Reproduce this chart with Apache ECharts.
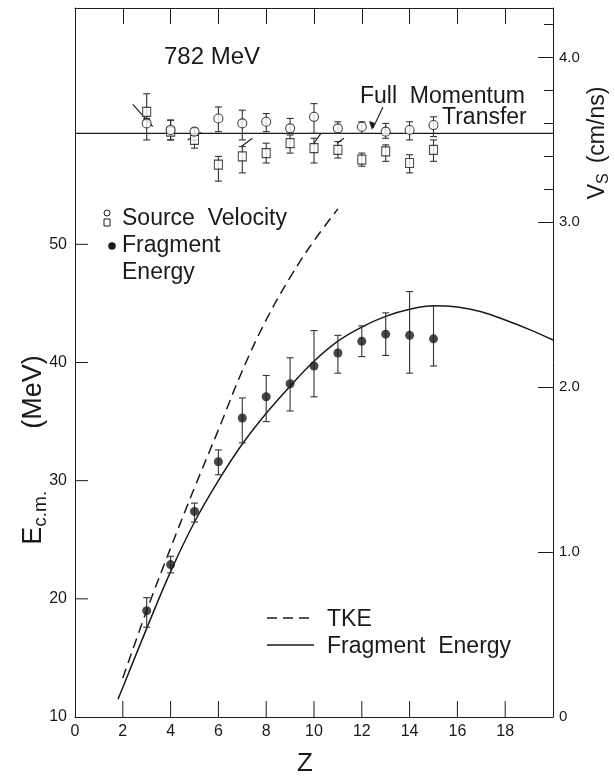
<!DOCTYPE html>
<html>
<head>
<meta charset="utf-8">
<script src="https://cdn.jsdelivr.net/npm/echarts@6/dist/echarts.min.js"></script>
<style>
  html, body { margin: 0; background: #fff; }
  #chart { width: 615px; height: 777px; }
</style>
</head>
<body>
<div id="chart"></div>
<script>
// fragment energy points, E c.m. (MeV), with error limits
var zFrag  = [3, 4, 5, 6, 7, 8, 9, 10, 11, 12, 13, 14, 15];
var fragE  = [19.0, 22.9, 27.4, 31.6, 35.3, 37.1, 38.2, 39.7, 40.8, 41.8, 42.4, 42.3, 42.0];
var fragLo = [17.6, 22.2, 26.5, 30.5, 33.2, 35.0, 35.9, 37.1, 39.1, 40.5, 40.6, 39.1, 39.7];
var fragHi = [20.1, 23.6, 28.1, 32.6, 37.0, 38.9, 40.4, 42.7, 42.3, 43.1, 44.2, 46.0, 44.8];

// source velocity (cm/ns): circles and squares
var zVel       = [3, 4, 5, 6, 7, 8, 9, 10, 11, 12, 13, 14, 15];
var velCirc    = [3.60, 3.56, 3.55, 3.63, 3.60, 3.61, 3.57, 3.64, 3.57, 3.58, 3.55, 3.56, 3.59];
var velCircLo  = [3.50, 3.50, 3.53, 3.55, 3.50, 3.55, 3.54, 3.54, 3.54, 3.54, 3.51, 3.50, 3.52];
var velCircHi  = [3.63, 3.62, 3.57, 3.70, 3.68, 3.66, 3.63, 3.72, 3.61, 3.61, 3.60, 3.61, 3.64];
var velSq      = [3.67, 3.55, 3.50, 3.35, 3.40, 3.42, 3.48, 3.45, 3.44, 3.38, 3.43, 3.36, 3.44];
var velSqLo    = [3.62, 3.50, 3.45, 3.25, 3.30, 3.36, 3.42, 3.36, 3.39, 3.34, 3.37, 3.30, 3.37];
var velSqHi    = [3.78, 3.62, 3.50, 3.40, 3.46, 3.48, 3.53, 3.51, 3.49, 3.42, 3.47, 3.41, 3.50];

// short slanted strokes beside displaced symbols: [z1, v1, z2, v2]
var offsetStrokes = [
  [2.42, 3.715, 3.25, 3.58],
  [4.71, 3.50, 5.29, 3.545],
  [6.96, 3.46, 7.42, 3.51],
  [10.0, 3.48, 10.29, 3.54],
  [10.96, 3.48, 11.25, 3.51]
];

// curves
var fragCurveZ = [1.8, 2, 3, 4, 5, 6, 7, 8, 9, 10, 11, 12, 13, 14, 15, 16, 17, 18, 19, 20];
var fragCurveE = [11.5, 12.5, 17.5, 22.3, 26.5, 30.0, 33.1, 35.7, 38.0, 40.1, 41.8, 43.0, 43.9, 44.5, 44.8, 44.7, 44.3, 43.6, 42.8, 41.9];
var tkeZ = [2, 3, 4, 5, 6, 7, 8, 9, 10, 11];
var tkeE = [13.3, 19.0, 24.3, 29.4, 34.3, 39.3, 43.6, 47.2, 50.3, 53.0];
var momentumV = 3.54;

// ticks
var xLabels = [0, 2, 4, 6, 8, 10, 12, 14, 16, 18];
var xTicks = [2, 4, 6, 8, 10, 12, 14, 16, 18];
var eLabels = [10, 20, 30, 40, 50];
var eTicks = [20, 30, 40, 50];
var vTicks = [0, 1, 2, 3, 4];
var vMinorTicks = [3.2, 3.4, 3.6, 3.8, 4.2];

var ink = '#1a1a1a';
var font = 'Liberation Sans, Arial, sans-serif';

function pairs(xs, ys) {
  return xs.map(function (x, i) { return [x, ys[i]]; });
}

function errBars(name, zs, lo, hi, yIdx) {
  return {
    name: name,
    type: 'custom',
    yAxisIndex: yIdx,
    z: 3,
    data: zs.map(function (z, i) { return [z, lo[i], hi[i]]; }),
    renderItem: function (params, api) {
      var a = api.coord([api.value(0), api.value(1)]);
      var b = api.coord([api.value(0), api.value(2)]);
      var w = 3.5;
      var st = { stroke: '#333', lineWidth: 1.1 };
      return {
        type: 'group',
        children: [
          { type: 'line', shape: { x1: a[0], y1: a[1], x2: b[0], y2: b[1] }, style: st },
          { type: 'line', shape: { x1: a[0] - w, y1: a[1], x2: a[0] + w, y2: a[1] }, style: st },
          { type: 'line', shape: { x1: b[0] - w, y1: b[1], x2: b[0] + w, y2: b[1] }, style: st }
        ]
      };
    }
  };
}

// inward ticks on the left (E) and bottom (Z) frame edges
function frameTicks(name, values, vertical, len) {
  return {
    name: name,
    type: 'custom',
    clip: false,
    silent: true,
    z: 1,
    data: values.map(function (v) { return vertical ? [v, 10] : [0, v]; }),
    renderItem: function (params, api) {
      var p = api.coord([api.value(0), api.value(1)]);
      var shape = vertical
        ? { x1: p[0], y1: p[1], x2: p[0], y2: p[1] - len }
        : { x1: p[0], y1: p[1], x2: p[0] + len, y2: p[1] };
      return { type: 'line', shape: shape, style: { stroke: ink, lineWidth: 1 } };
    }
  };
}

var chart = echarts.init(document.getElementById('chart'));

var option = {
  animation: false,
  backgroundColor: '#fff',
  textStyle: { fontFamily: font, color: ink },
  grid: { left: 75, right: 62, top: 8, bottom: 60 },
  xAxis: [
    {
      type: 'value', position: 'bottom', min: 0, max: 20,
      axisLine: { onZero: false, lineStyle: { color: ink, width: 1 } },
      axisTick: { show: false },
      axisLabel: { customValues: xLabels, fontSize: 16, color: ink, margin: 7, fontFamily: font },
      splitLine: { show: false }
    },
    {
      type: 'value', position: 'top', min: 0, max: 20,
      axisLine: { onZero: false, lineStyle: { color: ink, width: 1 } },
      axisTick: { inside: true, length: 16, customValues: xTicks, lineStyle: { color: ink } },
      axisLabel: { show: false },
      splitLine: { show: false }
    }
  ],
  yAxis: [
    {
      type: 'value', position: 'left', min: 10, max: 70,
      axisLine: { show: true, onZero: false, lineStyle: { color: ink, width: 1 } },
      axisTick: { show: false },
      axisLabel: { customValues: eLabels, fontSize: 16, color: ink, margin: 8, fontFamily: font },
      splitLine: { show: false }
    },
    {
      type: 'value', position: 'right', min: 0, max: 4.3,
      axisLine: { show: true, onZero: false, lineStyle: { color: ink, width: 1 } },
      axisTick: { show: true, inside: true, length: 15, customValues: vTicks, lineStyle: { color: ink } },
      axisLabel: {
        customValues: vTicks, fontSize: 15, color: ink, margin: 6, fontFamily: font,
        formatter: function (v) { return v === 0 ? '0' : v.toFixed(1); }
      },
      splitLine: { show: false }
    },
    {
      type: 'value', position: 'right', min: 0, max: 4.3,
      axisLine: { show: false, onZero: false },
      axisTick: { show: true, inside: true, length: 9, customValues: vMinorTicks, lineStyle: { color: ink } },
      axisLabel: { show: false },
      splitLine: { show: false }
    }
  ],
  series: [
    frameTicks('z ticks', xTicks, true, 16),
    frameTicks('e ticks', eTicks, false, 13),
    {
      name: 'Fragment Energy curve', type: 'line', smooth: 0.4, showSymbol: false,
      data: pairs(fragCurveZ, fragCurveE),
      lineStyle: { color: ink, width: 1.5 }, z: 2
    },
    {
      name: 'TKE', type: 'line', smooth: 0.4, showSymbol: false,
      data: pairs(tkeZ, tkeE),
      lineStyle: { color: ink, width: 1.5, type: [10, 6] }, z: 2
    },
    {
      name: 'Full Momentum Transfer', type: 'line', yAxisIndex: 1, showSymbol: false,
      data: [[0, momentumV], [20, momentumV]],
      lineStyle: { color: ink, width: 1.2 }, z: 2
    },
    {
      name: 'offset strokes', type: 'custom', yAxisIndex: 1, z: 4, silent: true,
      data: offsetStrokes,
      renderItem: function (params, api) {
        var a = api.coord([api.value(0), api.value(1)]);
        var b = api.coord([api.value(2), api.value(3)]);
        return { type: 'line', shape: { x1: a[0], y1: a[1], x2: b[0], y2: b[1] }, style: { stroke: ink, lineWidth: 1.1 } };
      }
    },
    errBars('frag err', zFrag, fragLo, fragHi, 0),
    {
      name: 'Fragment Energy', type: 'scatter', symbol: 'circle', symbolSize: 9,
      data: pairs(zFrag, fragE), itemStyle: { color: ink }, z: 5
    },
    errBars('circ err', zVel, velCircLo, velCircHi, 1),
    errBars('sq err', zVel, velSqLo, velSqHi, 1),
    {
      name: 'Source Velocity sq', type: 'scatter', yAxisIndex: 1, symbol: 'rect', symbolSize: [8, 9],
      data: pairs(zVel, velSq),
      itemStyle: { color: '#fff', borderColor: ink, borderWidth: 1.1 }, z: 5
    },
    {
      name: 'Source Velocity', type: 'scatter', yAxisIndex: 1, symbol: 'circle', symbolSize: 9,
      data: pairs(zVel, velCirc),
      itemStyle: { color: '#fff', borderColor: ink, borderWidth: 1.1 }, z: 6
    }
  ],
  graphic: [
    { type: 'text', left: 164, top: 45, style: { text: '782 MeV', font: '24px ' + font, fill: ink } },
    { type: 'text', x: 360, y: 97, style: { text: 'Full  Momentum', font: '23px ' + font, fill: ink, verticalAlign: 'middle' } },
    { type: 'text', x: 442, y: 118, style: { text: 'Transfer', font: '23px ' + font, fill: ink, verticalAlign: 'middle' } },
    { type: 'line', shape: { x1: 383, y1: 107, x2: 373, y2: 128 }, style: { stroke: ink, lineWidth: 1.1 } },
    { type: 'polygon', shape: { points: [[372, 130], [369, 121], [375, 123]] }, style: { fill: ink } },
    // upper legend
    { type: 'circle', shape: { cx: 107, cy: 213, r: 3 }, style: { fill: '#fff', stroke: ink, lineWidth: 1 } },
    { type: 'rect', shape: { x: 104, y: 219, width: 6, height: 7 }, style: { fill: '#fff', stroke: ink, lineWidth: 1 } },
    { type: 'text', x: 122, y: 219, style: { text: 'Source  Velocity', font: '23px ' + font, fill: ink, verticalAlign: 'middle' } },
    { type: 'circle', shape: { cx: 112, cy: 246, r: 3.8 }, style: { fill: ink } },
    { type: 'text', x: 122, y: 246, style: { text: 'Fragment', font: '23px ' + font, fill: ink, verticalAlign: 'middle' } },
    { type: 'text', x: 122, y: 273, style: { text: 'Energy', font: '23px ' + font, fill: ink, verticalAlign: 'middle' } },
    // lower legend
    { type: 'line', shape: { x1: 267, y1: 618, x2: 314, y2: 618 }, style: { stroke: ink, lineWidth: 1.5, lineDash: [10, 6] } },
    { type: 'text', x: 327, y: 620, style: { text: 'TKE', font: '23px ' + font, fill: ink, verticalAlign: 'middle' } },
    { type: 'line', shape: { x1: 267, y1: 645, x2: 314, y2: 645 }, style: { stroke: ink, lineWidth: 1.5 } },
    { type: 'text', x: 327, y: 647, style: { text: 'Fragment  Energy', font: '23px ' + font, fill: ink, verticalAlign: 'middle' } },
    // axis titles
    {
      type: 'text', x: 34, y: 450, rotation: Math.PI / 2,
      style: {
        text: '{e|E}{s|c.m.}{g|}{e|(MeV)}', align: 'center', verticalAlign: 'middle', fill: ink,
        rich: {
          e: { fontSize: 27, fontFamily: font, lineHeight: 32, fill: ink },
          s: { fontSize: 19, fontFamily: font, lineHeight: 20, verticalAlign: 'bottom', fill: ink },
          g: { width: 62 }
        }
      }
    },
    {
      type: 'text', x: 598, y: 143, rotation: Math.PI / 2,
      style: {
        text: '{e|V}{s|S}{g|}{e|(cm/ns)}', align: 'center', verticalAlign: 'middle', fill: ink,
        rich: {
          e: { fontSize: 23, fontFamily: font, lineHeight: 28, fill: ink },
          s: { fontSize: 16, fontFamily: font, lineHeight: 16, verticalAlign: 'bottom', fill: ink },
          g: { width: 10 }
        }
      }
    },
    { type: 'text', x: 305, y: 764, style: { text: 'Z', font: '26px ' + font, fill: ink, align: 'center', verticalAlign: 'middle' } }
  ]
};

chart.setOption(option);
</script>
</body>
</html>
